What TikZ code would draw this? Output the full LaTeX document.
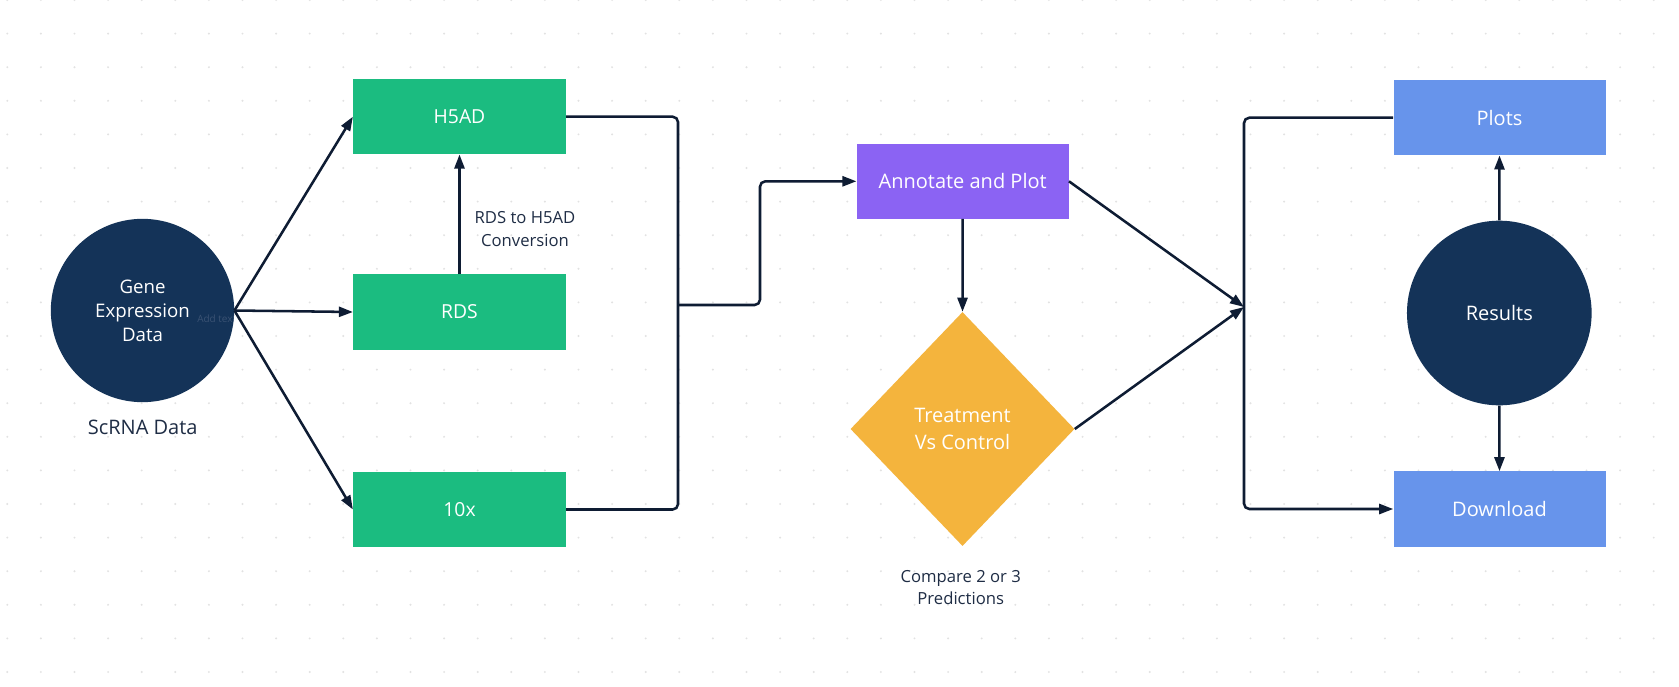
\documentclass[tikz,border=0pt]{standalone}
\usepackage{fontspec}
\setmainfont{Open Sans}
\usetikzlibrary{shapes.geometric,arrows.meta}
\definecolor{navy}{HTML}{143358}
\definecolor{linec}{HTML}{0E1C33}
\definecolor{greenc}{HTML}{1BBC80}
\definecolor{purplec}{HTML}{8B63F3}
\definecolor{yellowc}{HTML}{F4B43D}
\definecolor{bluec}{HTML}{6794EB}
\definecolor{labelc}{HTML}{1F2D45}
\definecolor{dotc}{HTML}{E2E2E2}
\definecolor{ghostc}{HTML}{3A5273}
\tikzset{
  conn/.style={draw=linec, line width=1.9pt},
  arr/.style={conn, -{Triangle[length=10.5pt,width=7.5pt]}},
  circ/.style={circle, fill=navy, text=white, inner sep=0pt, minimum size=137.5pt, align=center, font=\fontsize{14}{18}\selectfont},
  gbox/.style={rectangle, fill=greenc, text=white, minimum width=159.5pt, minimum height=56.3pt, inner sep=0pt, font=\fontsize{14.5}{18}\selectfont},
  bbox/.style={rectangle, fill=bluec, text=white, minimum width=159pt, minimum height=56.3pt, inner sep=0pt, font=\fontsize{15}{18}\selectfont},
  lbl/.style={text=labelc, align=center, inner sep=0pt},
}
\begin{document}
\begin{tikzpicture}[x=0.75pt,y=-0.75pt]
\fill[white] (0,0) rectangle (1679,686);
\useasboundingbox (0,0) rectangle (1679,686);
% dot grid
\foreach \i in {0,...,49}{
  \foreach \j in {0,...,20}{
    \fill[dotc] (7.3+33.6*\i, 33.6*\j) circle[radius=0.8pt];
  }
}
% nodes
\node[circ] (gene) at (142.5,310.5) {Gene\\Expression\\Data};
\begin{scope}
  \clip (142.5,310.5) circle[radius=68.7pt];
  \node[anchor=west, text=ghostc, inner sep=0pt, font=\fontsize{7.5}{9}\selectfont] (ghost) at (197,319) {Add text};
\end{scope}
\node[lbl, font=\fontsize{15}{18}\selectfont] (scrna) at (142.7,427) {ScRNA Data};

\node[gbox] (h5ad) at (459.5,116.7) {H5AD};
\node[gbox] (rds) at (459.5,312) {RDS};
\node[gbox] (tenx) at (459.5,509.5) {10x};
\node[lbl, font=\fontsize{12.5}{17}\selectfont] (rdslbl) at (525,229) {RDS to H5AD\\Conversion};

\node[rectangle, fill=purplec, text=white, minimum width=159pt, minimum height=56pt, inner sep=0pt, font=\fontsize{15}{18}\selectfont] (annot) at (962.7,181.3) {Annotate and Plot};
\node[diamond, fill=yellowc, text=white, minimum width=168pt, minimum height=175.5pt, inner sep=0pt, align=center, font=\fontsize{15}{20}\selectfont] (tvc) at (962.5,429) {Treatment\\Vs Control};
\node[lbl, font=\fontsize{12.5}{16.5}\selectfont] (cmp) at (960.7,587.5) {Compare 2 or 3\\Predictions};

\node[bbox] (plots) at (1499.5,117.7) {Plots};
\node[bbox] (dl) at (1499.5,509) {Download};
\node[circ, minimum size=138.5pt, font=\fontsize{15}{18}\selectfont] (res) at (1499.3,313) {Results};

\coordinate (jx) at (678,305);
\coordinate (m) at (1244,307);

% connectors
\draw[arr] (gene.east) -- (h5ad.west);
\draw[arr] (gene.east) -- (rds.west);
\draw[arr] (gene.east) -- (tenx.west);
\draw[arr] (rds.north) -- (h5ad.south);
\draw[conn, rounded corners=4pt] (h5ad.east) -| (jx) |- (tenx.east);
\draw[arr, rounded corners=4pt] (jx) -- ++(82,0) |- (annot.west);
\draw[arr] (annot.south) -- (tvc.north);
\draw[arr] (annot.east) -- (m);
\draw[arr] (tvc.east) -- (m);
\draw[arr, rounded corners=4pt] (plots.west) -| (m) |- (dl.west);
\draw[arr] (res.north) -- (plots.south);
\draw[arr] (res.south) -- (dl.north);
\end{tikzpicture}
\end{document}
